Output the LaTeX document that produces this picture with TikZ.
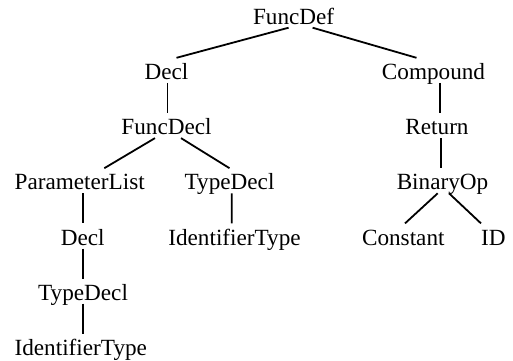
\documentclass[tikz,border=0pt]{standalone}
\usepackage{fontspec}
\setmainfont{Liberation Serif}
\usetikzlibrary{calc}

\tikzset{
    ast/.style={anchor=base, inner sep=0pt, text height=10.65pt, text depth=1.5pt,
        font=\fontsize{11.6}{14}\selectfont},
    edge/.style={line width=0.9pt}
}

\begin{document}
\begin{tikzpicture}[x=0.5pt,y=-0.5pt]
    \useasboundingbox (0,0) rectangle (513,360);

    % Tree nodes (one row per level)
    \node[ast] (FuncDef) at (293.6,24.3) {FuncDef};
    \node[ast] (Decl) at (166.5,79.5) {Decl};
    \node[ast] (Compound) at (433.5,79.5) {Compound};
    \node[ast] (FuncDecl) at (166.5,134.7) {FuncDecl};
    \node[ast] (Return) at (437,134.7) {Return};
    \node[ast] (ParamList) at (79.7,189.9) {ParameterList};
    \node[ast] (TypeDeclA) at (229.5,189.9) {TypeDecl};
    \node[ast] (BinaryOp) at (442.5,189.9) {BinaryOp};
    \node[ast] (DeclB) at (82.7,245.1) {Decl};
    \node[ast] (IdTypeA) at (234.5,245.1) {IdentifierType};
    \node[ast] (Constant) at (403.3,245.1) {Constant};
    \node[ast] (ID) at (493.3,245.1) {ID};
    \node[ast] (TypeDeclB) at (83,300.3) {TypeDecl};
    \node[ast] (IdTypeB) at (80.8,355.5) {IdentifierType};

    % Edges: parent/offset/child/offset
    \foreach \p/\dp/\c/\dc in {FuncDef/-5/Decl/10, FuncDef/19/Compound/-17,
            Decl/1/FuncDecl/1, Compound/6.5/Return/3,
            FuncDecl/-11.5/ParamList/24.6, FuncDecl/14.5/TypeDeclA/0,
            Return/4/BinaryOp/-1.5, ParamList/3.6/DeclB/0.6,
            TypeDeclA/2.2/IdTypeA/-2.8, BinaryOp/-4.8/Constant/1.7,
            BinaryOp/6.5/ID/-12.3, DeclB/0.6/TypeDeclB/0.3,
            TypeDeclB/0.3/IdTypeB/2.5}
        \draw[edge] ($(\p.south)+(\dp,0)$) -- ($(\c.north)+(\dc,0)$);

\end{tikzpicture}
\end{document}
